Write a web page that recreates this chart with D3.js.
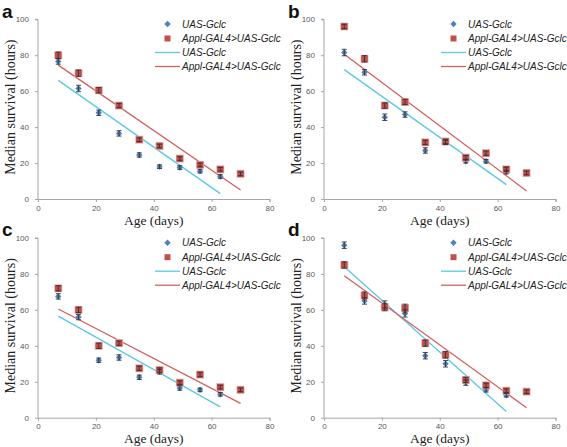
<!DOCTYPE html>
<html><head><meta charset="utf-8">
<script src="https://cdn.jsdelivr.net/npm/d3@7/dist/d3.min.js"></script>
<style>body{margin:0;background:#fff}svg{display:block}</style>
</head><body>
<script>
const ages = [7, 14, 21, 28, 35, 42, 49, 56, 63, 70];
const panelLabels = ["a", "b", "c", "d"];
const seriesNames = ["UAS-Gclc", "Appl-GAL4>UAS-Gclc"];
const xTicks = [0, 20, 40, 60, 80];
const yTicks = [0, 20, 40, 60, 80, 100];

// Median survival (hours); UAS-Gclc has no point at day 70
const uasA  = [76.5, 61.5, 48, 36.5, 24.5, 18, 17.5, 15.5, 12.5];
const applA = [80, 70, 60.5, 52, 33, 29.5, 22.5, 19, 16.5, 14];
const uasB  = [81.5, 70.5, 45.5, 47, 27, 31.5, 21, 21, 15];
const applB = [96, 78, 52, 54, 31.5, 32, 23, 25.5, 16.5, 14.5];
const uasC  = [67.5, 56, 32, 33.5, 22.5, 25.5, 16.5, 15.5, 13];
const applC = [72, 60, 40, 41.5, 27.5, 26.5, 19.5, 24, 17, 15.5];
const uasD  = [96, 65, 63, 58, 34.5, 30, 19.5, 15.5, 12.5];
const applD = [85, 68, 61.5, 61, 41.5, 35, 21, 18, 15, 14.5];

// error (± hours)
const uasErrA  = [1.5, 1.8, 1.5, 1.5, 1.2, 1, 1, 1, 1];
const applErrA = [1.8, 1.8, 1.5, 1.2, 1, 1, 1, 1, 1, 1];
const uasErrB  = [1.8, 1.5, 1.8, 1.5, 1.5, 1.2, 1, 1, 1];
const applErrB = [1.2, 1.8, 1.5, 1.5, 1.2, 1.2, 1.2, 1.2, 1.2, 1];
const uasErrC  = [1.5, 1.5, 1.2, 1.5, 1.2, 1.2, 1.2, 1, 1];
const applErrC = [1.5, 1.5, 1.5, 1.2, 1.2, 1.2, 1, 1.2, 1, 1];
const uasErrD  = [1.8, 1.8, 2, 2, 1.8, 1.8, 1.5, 1.2, 1];
const applErrD = [1.8, 2, 2, 2.2, 1.8, 1.8, 1.5, 1.2, 1, 1];

// linear trend line end values at [first age, last age]
const trendUasA  = [[7, 66], [63, 3]];
const trendApplA = [[7, 74.5], [70, 5]];
const trendUasB  = [[7, 72], [63, 8]];
const trendApplB = [[7, 80.5], [70, 4.5]];
const trendUasC  = [[7, 56.5], [63, 6]];
const trendApplC = [[7, 60.5], [70, 8]];
const trendUasD  = [[7, 84], [63, 3.5]];
const trendApplD = [[7, 79], [70, 5.5]];

const panels = [
  {label: panelLabels[0], uas: uasA, appl: applA, ue: uasErrA, ae: applErrA, tu: trendUasA, ta: trendApplA, ox: 0, oy: 0},
  {label: panelLabels[1], uas: uasB, appl: applB, ue: uasErrB, ae: applErrB, tu: trendUasB, ta: trendApplB, ox: 286, oy: 0},
  {label: panelLabels[2], uas: uasC, appl: applC, ue: uasErrC, ae: applErrC, tu: trendUasC, ta: trendApplC, ox: 0, oy: 218.7},
  {label: panelLabels[3], uas: uasD, appl: applD, ue: uasErrD, ae: applErrD, tu: trendUasD, ta: trendApplD, ox: 286, oy: 218.7}
];

const blue = "#4F81BD", red = "#C0504D", cyan = "#5BC8E6", redLine = "#D0615E";
const svg = d3.select("body").append("svg").attr("width", 567).attr("height", 447);

panels.forEach(p => {
  const g = svg.append("g").attr("transform", `translate(${p.ox},${p.oy})`);
  const x = d3.scaleLinear().domain([0, 80]).range([38, 269.5]);
  const y = d3.scaleLinear().domain([0, 100]).range([199, 19.3]);

  // axes
  const xa = g.append("g").attr("transform", `translate(0,${y(0)})`)
    .call(d3.axisBottom(x).tickValues(xTicks).tickSize(3).tickPadding(3));
  const ya = g.append("g").attr("transform", `translate(${x(0)},0)`)
    .call(d3.axisLeft(y).tickValues(yTicks).tickSize(3).tickPadding(6));
  [xa, ya].forEach(a => {
    a.select(".domain").attr("stroke", "#A6A6A6");
    a.selectAll(".tick line").attr("stroke", "#A6A6A6");
    a.selectAll("text").attr("fill", "#595959").style("font-family", "Liberation Sans, Arial, sans-serif").style("font-size", "8px");
  });
  ya.select(".domain").attr("d", `M-3,${y(100)}H0V${y(0)}`);

  // trend lines
  const line = d3.line().x(d => x(d[0])).y(d => y(d[1]));
  g.append("path").datum(p.tu).attr("d", line).attr("stroke", cyan).attr("stroke-width", 1.3).attr("fill", "none");
  g.append("path").datum(p.ta).attr("d", line).attr("stroke", redLine).attr("stroke-width", 1.3).attr("fill", "none");

  // error bars + markers
  const drawSeries = (vals, errs, isRed) => {
    const data = vals.map((v, i) => ({a: ages[i], v, e: errs[i]}));
    const eb = g.append("g").attr("stroke", "#333").attr("stroke-width", 0.9);
    const mk = g.append("g");
    data.forEach(d => {
      const cx = x(d.a), cy = y(d.v);
      if (isRed) {
        mk.append("rect").attr("x", cx - 4).attr("y", cy - 4).attr("width", 8).attr("height", 8).attr("fill", "#E9B7B6");
        mk.append("rect").attr("x", cx - 3.3).attr("y", cy - 3.3).attr("width", 6.6).attr("height", 6.6).attr("fill", red);
      } else {
        mk.append("path").attr("d", d3.symbol(d3.symbolDiamond2, 26)()).attr("transform", `translate(${cx},${cy})`).attr("fill", blue);
      }
      const y1 = y(d.v + d.e), y2 = y(d.v - d.e);
      eb.append("line").attr("x1", cx).attr("x2", cx).attr("y1", y1).attr("y2", y2);
      eb.append("line").attr("x1", cx - 2.5).attr("x2", cx + 2.5).attr("y1", y1).attr("y2", y1);
      eb.append("line").attr("x1", cx - 2.5).attr("x2", cx + 2.5).attr("y1", y2).attr("y2", y2);
    });
    return eb;
  };
  const eu = drawSeries(p.uas, p.ue, false);
  const ea = drawSeries(p.appl, p.ae, true);
  eu.raise(); ea.raise();

  // axis titles
  g.append("text").attr("x", x(40)).attr("y", 224.8).attr("text-anchor", "middle")
    .style("font-family", "Liberation Serif, Times New Roman, serif").style("font-size", "13.5px").attr("fill", "#222").text("Age (days)");
  g.append("text").attr("transform", `translate(15,${(y(0) + y(100)) / 2 - 2}) rotate(-90)`).attr("text-anchor", "middle")
    .style("font-family", "Liberation Serif, Times New Roman, serif").style("font-size", "14px").attr("fill", "#222").text("Median survival (hours)");

  // panel label
  g.append("text").attr("x", 2).attr("y", 17.5).style("font-family", "Liberation Sans, Arial, sans-serif")
    .style("font-weight", "bold").style("font-size", "19px").attr("fill", "#111").text(p.label);

  // legend
  const lg = g.append("g");
  const lx = 182, ly = [24, 38.5, 52.5, 66.5];
  lg.append("path").attr("d", d3.symbol(d3.symbolDiamond2, 26)()).attr("transform", `translate(167.5,${ly[0]})`).attr("fill", blue);
  lg.append("rect").attr("x", 164.5).attr("y", ly[1] - 3).attr("width", 6).attr("height", 6).attr("fill", red);
  lg.append("line").attr("x1", 155).attr("x2", 180).attr("y1", ly[2]).attr("y2", ly[2]).attr("stroke", cyan).attr("stroke-width", 1.3);
  lg.append("line").attr("x1", 155).attr("x2", 180).attr("y1", ly[3]).attr("y2", ly[3]).attr("stroke", redLine).attr("stroke-width", 1.3);
  const names = [seriesNames[0], seriesNames[1], seriesNames[0], seriesNames[1]];
  names.forEach((n, i) => {
    lg.append("text").attr("x", lx).attr("y", ly[i] + 3.5).style("font-family", "Liberation Sans, Arial, sans-serif")
      .style("font-style", "italic").style("font-size", "10px").attr("fill", "#222").text(n);
  });
});
</script>
</body></html>
